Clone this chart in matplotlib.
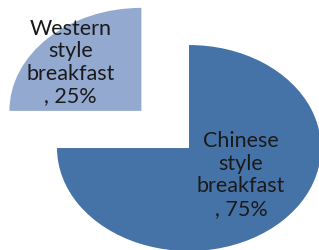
import matplotlib.pyplot as plt

categories = ["Western\nstyle\nbreakfast", "Chinese\nstyle\nbreakfast"]
shares = [25, 75]
colors = ["#94A9D0", "#4673A7"]

fig = plt.figure(figsize=(3.19, 2.5), dpi=100)
ax = fig.add_axes([0, 0, 1, 1])

wedges, _ = ax.pie(shares, colors=colors, startangle=90, counterclock=True,
                   explode=[0.51, 0], wedgeprops=dict(linewidth=0))
ax.set_aspect("auto")
ax.set_xlim(-1.432, 0.985)
ax.set_ylim(-0.99, 1.437)
ax.axis("off")

# label positions (inside each slice)
label_pos = [(-0.90, 0.83), (0.394, -0.262)]
for name, val, (x, y) in zip(categories, shares, label_pos):
    ax.text(x, y, f"{name}\n, {val}%", ha="center", va="center",
            fontsize=15.5, family="Lato", color="#1a1a1a", linespacing=1.15)

fig.savefig("out.png", dpi=100)
